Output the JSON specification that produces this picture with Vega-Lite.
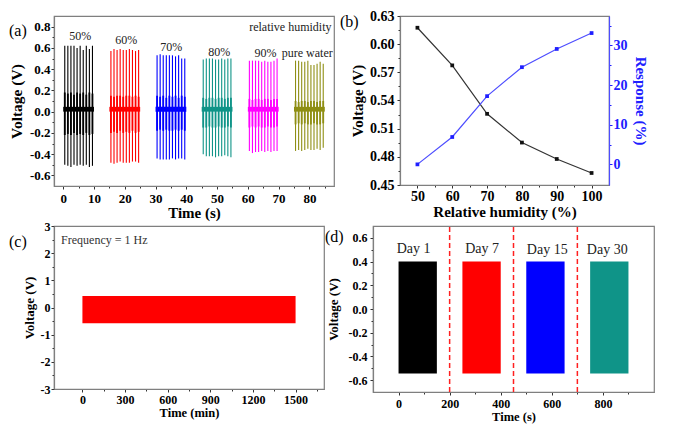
{
 "$schema": "https://vega.github.io/schema/vega-lite/v6.json",
 "background": "white",
 "padding": {"left": 8, "top": 8, "right": 0, "bottom": 0},
 "config": {
  "font": "Liberation Serif",
  "view": {"stroke": "#7f7f7f", "strokeWidth": 1.2},
  "axis": {"grid": false, "labelFontWeight": "bold", "titleFontWeight": "bold", "labelColor": "#000", "titleColor": "#000", "domainColor": "#7f7f7f", "domainWidth": 1.2, "tickColor": "#333", "tickWidth": 1, "labelFlush": false, "labelOverlap": false, "labelBound": false},
  "title": {"font": "Liberation Serif", "fontWeight": "normal", "color": "#000"}
 },
 "datasets": {
  "spikes": [
   {"b":"50","t":0.5,"hi":0.62,"lo":-0.50},{"b":"50","t":1.5,"hi":0.62,"lo":-0.51},{"b":"50","t":2.5,"hi":0.62,"lo":-0.52},{"b":"50","t":3.5,"hi":0.62,"lo":-0.50},{"b":"50","t":4.5,"hi":0.60,"lo":-0.51},
   {"b":"50","t":5.5,"hi":0.62,"lo":-0.50},{"b":"50","t":6.5,"hi":0.58,"lo":-0.51},{"b":"50","t":7.5,"hi":0.62,"lo":-0.50},{"b":"50","t":8.5,"hi":0.59,"lo":-0.52},{"b":"50","t":9.5,"hi":0.62,"lo":-0.51},
   {"b":"60","t":15.5,"hi":0.57,"lo":-0.48},{"b":"60","t":16.5,"hi":0.59,"lo":-0.49},{"b":"60","t":17.5,"hi":0.58,"lo":-0.48},{"b":"60","t":18.5,"hi":0.59,"lo":-0.47},{"b":"60","t":19.5,"hi":0.58,"lo":-0.48},
   {"b":"60","t":20.5,"hi":0.58,"lo":-0.48},{"b":"60","t":21.5,"hi":0.59,"lo":-0.48},{"b":"60","t":22.5,"hi":0.58,"lo":-0.47},{"b":"60","t":23.5,"hi":0.57,"lo":-0.47},{"b":"60","t":24.5,"hi":0.58,"lo":-0.48},
   {"b":"70","t":30.5,"hi":0.53,"lo":-0.44},{"b":"70","t":31.5,"hi":0.54,"lo":-0.45},{"b":"70","t":32.5,"hi":0.53,"lo":-0.45},{"b":"70","t":33.5,"hi":0.53,"lo":-0.45},{"b":"70","t":34.5,"hi":0.53,"lo":-0.45},
   {"b":"70","t":35.5,"hi":0.53,"lo":-0.44},{"b":"70","t":36.5,"hi":0.52,"lo":-0.45},{"b":"70","t":37.5,"hi":0.53,"lo":-0.44},{"b":"70","t":38.5,"hi":0.50,"lo":-0.44},{"b":"70","t":39.5,"hi":0.50,"lo":-0.45},
   {"b":"80","t":45.5,"hi":0.49,"lo":-0.40},{"b":"80","t":46.5,"hi":0.50,"lo":-0.42},{"b":"80","t":47.5,"hi":0.50,"lo":-0.42},{"b":"80","t":48.5,"hi":0.50,"lo":-0.42},{"b":"80","t":49.5,"hi":0.49,"lo":-0.43},
   {"b":"80","t":50.5,"hi":0.49,"lo":-0.42},{"b":"80","t":51.5,"hi":0.50,"lo":-0.42},{"b":"80","t":52.5,"hi":0.49,"lo":-0.41},{"b":"80","t":53.5,"hi":0.50,"lo":-0.42},{"b":"80","t":54.5,"hi":0.50,"lo":-0.43},
   {"b":"90","t":60.5,"hi":0.48,"lo":-0.37},{"b":"90","t":61.5,"hi":0.48,"lo":-0.39},{"b":"90","t":62.5,"hi":0.48,"lo":-0.38},{"b":"90","t":63.5,"hi":0.48,"lo":-0.38},{"b":"90","t":64.5,"hi":0.47,"lo":-0.37},
   {"b":"90","t":65.5,"hi":0.48,"lo":-0.38},{"b":"90","t":66.5,"hi":0.47,"lo":-0.37},{"b":"90","t":67.5,"hi":0.47,"lo":-0.38},{"b":"90","t":68.5,"hi":0.48,"lo":-0.37},{"b":"90","t":69.5,"hi":0.50,"lo":-0.37},
   {"b":"pw","t":75.5,"hi":0.48,"lo":-0.37},{"b":"pw","t":76.5,"hi":0.48,"lo":-0.36},{"b":"pw","t":77.5,"hi":0.47,"lo":-0.37},{"b":"pw","t":78.5,"hi":0.47,"lo":-0.36},{"b":"pw","t":79.5,"hi":0.48,"lo":-0.35},
   {"b":"pw","t":80.5,"hi":0.44,"lo":-0.36},{"b":"pw","t":81.5,"hi":0.44,"lo":-0.36},{"b":"pw","t":82.5,"hi":0.45,"lo":-0.35},{"b":"pw","t":83.5,"hi":0.47,"lo":-0.36},{"b":"pw","t":84.5,"hi":0.45,"lo":-0.34}
  ],
  "mids": [
   {"b":"50","t":0.5,"hi":0.18,"lo":-0.22},{"b":"50","t":1.5,"hi":0.17,"lo":-0.21},{"b":"50","t":2.5,"hi":0.18,"lo":-0.22},{"b":"50","t":3.5,"hi":0.16,"lo":-0.20},{"b":"50","t":4.5,"hi":0.18,"lo":-0.22},
   {"b":"50","t":5.5,"hi":0.17,"lo":-0.21},{"b":"50","t":6.5,"hi":0.18,"lo":-0.22},{"b":"50","t":7.5,"hi":0.16,"lo":-0.20},{"b":"50","t":8.5,"hi":0.18,"lo":-0.22},{"b":"50","t":9.5,"hi":0.17,"lo":-0.21},
   {"b":"60","t":15.5,"hi":0.15,"lo":-0.20},{"b":"60","t":16.5,"hi":0.14,"lo":-0.19},{"b":"60","t":17.5,"hi":0.15,"lo":-0.20},{"b":"60","t":18.5,"hi":0.15,"lo":-0.18},{"b":"60","t":19.5,"hi":0.14,"lo":-0.20},
   {"b":"60","t":20.5,"hi":0.15,"lo":-0.19},{"b":"60","t":21.5,"hi":0.15,"lo":-0.20},{"b":"60","t":22.5,"hi":0.14,"lo":-0.18},{"b":"60","t":23.5,"hi":0.15,"lo":-0.20},{"b":"60","t":24.5,"hi":0.14,"lo":-0.19},
   {"b":"70","t":30.5,"hi":0.15,"lo":-0.18},{"b":"70","t":31.5,"hi":0.14,"lo":-0.17},{"b":"70","t":32.5,"hi":0.15,"lo":-0.18},{"b":"70","t":33.5,"hi":0.13,"lo":-0.17},{"b":"70","t":34.5,"hi":0.15,"lo":-0.18},
   {"b":"70","t":35.5,"hi":0.14,"lo":-0.18},{"b":"70","t":36.5,"hi":0.15,"lo":-0.17},{"b":"70","t":37.5,"hi":0.13,"lo":-0.18},{"b":"70","t":38.5,"hi":0.15,"lo":-0.17},{"b":"70","t":39.5,"hi":0.14,"lo":-0.18},
   {"b":"80","t":45.5,"hi":0.13,"lo":-0.15},{"b":"80","t":46.5,"hi":0.12,"lo":-0.15},{"b":"80","t":47.5,"hi":0.13,"lo":-0.14},{"b":"80","t":48.5,"hi":0.13,"lo":-0.15},{"b":"80","t":49.5,"hi":0.12,"lo":-0.15},
   {"b":"80","t":50.5,"hi":0.13,"lo":-0.14},{"b":"80","t":51.5,"hi":0.13,"lo":-0.15},{"b":"80","t":52.5,"hi":0.12,"lo":-0.15},{"b":"80","t":53.5,"hi":0.13,"lo":-0.14},{"b":"80","t":54.5,"hi":0.13,"lo":-0.15},
   {"b":"90","t":60.5,"hi":0.12,"lo":-0.15},{"b":"90","t":61.5,"hi":0.11,"lo":-0.14},{"b":"90","t":62.5,"hi":0.12,"lo":-0.15},{"b":"90","t":63.5,"hi":0.12,"lo":-0.14},{"b":"90","t":64.5,"hi":0.11,"lo":-0.15},
   {"b":"90","t":65.5,"hi":0.12,"lo":-0.15},{"b":"90","t":66.5,"hi":0.12,"lo":-0.14},{"b":"90","t":67.5,"hi":0.11,"lo":-0.15},{"b":"90","t":68.5,"hi":0.12,"lo":-0.15},{"b":"90","t":69.5,"hi":0.12,"lo":-0.14},
   {"b":"pw","t":75.5,"hi":0.10,"lo":-0.12},{"b":"pw","t":76.5,"hi":0.09,"lo":-0.11},{"b":"pw","t":77.5,"hi":0.10,"lo":-0.12},{"b":"pw","t":78.5,"hi":0.10,"lo":-0.11},{"b":"pw","t":79.5,"hi":0.09,"lo":-0.12},
   {"b":"pw","t":80.5,"hi":0.10,"lo":-0.12},{"b":"pw","t":81.5,"hi":0.10,"lo":-0.11},{"b":"pw","t":82.5,"hi":0.09,"lo":-0.12},{"b":"pw","t":83.5,"hi":0.10,"lo":-0.12},{"b":"pw","t":84.5,"hi":0.10,"lo":-0.11}
  ],
  "bandsA": [
   {"b":"50","t":0,"t2":10,"lo":0.0,"hi":0.045},
   {"b":"60","t":15,"t2":25,"lo":0.0,"hi":0.045},
   {"b":"70","t":30,"t2":40,"lo":0.0,"hi":0.045},
   {"b":"80","t":45,"t2":55,"lo":0.0,"hi":0.045},
   {"b":"90","t":60,"t2":70,"lo":0.0,"hi":0.045},
   {"b":"pw","t":75,"t2":85,"lo":0.0,"hi":0.045}
  ],
  "labelsA": [
   {"s":"50%","t":5.5,"lo":0.715},
   {"s":"60%","t":20.5,"lo":0.67},
   {"s":"70%","t":35.1,"lo":0.61},
   {"s":"80%","t":50.7,"lo":0.56},
   {"s":"90%","t":65.7,"lo":0.555},
   {"s":"pure water","t":79.3,"lo":0.555},
   {"s":"relative humidity","t":73.8,"lo":0.80}
  ],
  "humid": [
   {"rh":50,"v":0.6175,"r":0},
   {"rh":60,"v":0.5774,"r":6.9},
   {"rh":70,"v":0.5258,"r":17.2},
   {"rh":80,"v":0.4952,"r":24.5},
   {"rh":90,"v":0.4777,"r":29.1},
   {"rh":100,"v":0.4628,"r":33.1}
  ],
  "bandC": [{"t":0,"t2":1500,"lo":-0.58,"hi":0.42}],
  "labelC": [{"s":"Frequency = 1 Hz","t":-150,"lo":2.5}],
  "bandsD": [
   {"d":"1","t":0,"t2":150,"lo":-0.545,"hi":0.40},
   {"d":"7","t":250,"t2":400,"lo":-0.545,"hi":0.40},
   {"d":"15","t":500,"t2":650,"lo":-0.545,"hi":0.40},
   {"d":"30","t":750,"t2":900,"lo":-0.545,"hi":0.40}
  ],
  "dashD": [{"t":200,"lo":-0.7,"hi":0.7},{"t":450,"lo":-0.7,"hi":0.7},{"t":700,"lo":-0.7,"hi":0.7}],
  "labelsD": [
   {"s":"Day 1","t":59,"lo":0.51},
   {"s":"Day 7","t":327,"lo":0.51},
   {"s":"Day 15","t":582,"lo":0.50},
   {"s":"Day 30","t":817,"lo":0.50}
  ]
 },
 "spacing": -2,
 "vconcat": [
  {
   "spacing": 66,
   "bounds": "flush",
   "hconcat": [
    {
     "width": 280,
     "height": 170,
     "title": {"text": "(a)", "anchor": "start", "frame": "bounds", "fontSize": 16, "offset": 0, "dy": 23},
     "encoding": {
      "x": {"field": "t", "type": "quantitative", "scale": {"domain": [-3, 88], "nice": false, "zero": false},
       "axis": {"values": [0,5,10,15,20,25,30,35,40,45,50,55,60,65,70,75,80,85], "labelExpr": "datum.value % 10 === 0 ? datum.label : ''", "tickSize": {"condition": {"test": "datum.value % 10 === 0", "value": 3}, "value": 2}, "labelFontSize": 13, "labelPadding": 3, "title": "Time (s)", "titleFontSize": 15, "titlePadding": 1, "minExtent": 18, "maxExtent": 18}},
      "y": {"field": "lo", "type": "quantitative", "scale": {"domain": [-0.7, 0.9], "nice": false, "zero": false},
       "axis": {"values": [-0.6,-0.5,-0.4,-0.3,-0.2,-0.1,0,0.1,0.2,0.3,0.4,0.5,0.6,0.7,0.8], "format": ".1f", "labelExpr": "abs(round(datum.value*10)) % 2 === 0 ? replace(datum.label, '\u2212', '-') : ''", "tickSize": {"condition": {"test": "abs(round(datum.value*10)) % 2 === 0", "value": 3}, "value": 2}, "labelFontSize": 13, "labelPadding": 1, "title": "Voltage (V)", "titleFontSize": 15.5, "titlePadding": 5, "minExtent": 25, "maxExtent": 25}}
     },
     "layer": [
      {
       "data": {"name": "bandsA"},
       "mark": {"type": "rect"},
       "encoding": {
        "x2": {"field": "t2"},
        "y2": {"field": "hi"},
        "color": {"field": "b", "type": "nominal", "scale": {"domain": ["50","60","70","80","90","pw"], "range": ["#000000","#ff0000","#0000ff","#0f9488","#ff00ff","#8f8f14"]}, "legend": null}
       }
      },
      {
       "data": {"name": "spikes"},
       "mark": {"type": "rule", "strokeWidth": 1.1},
       "encoding": {
        "y2": {"field": "hi"},
        "color": {"field": "b", "type": "nominal", "legend": null}
       }
      },
      {
       "data": {"name": "mids"},
       "mark": {"type": "rule", "strokeWidth": 1.8},
       "encoding": {
        "y2": {"field": "hi"},
        "color": {"field": "b", "type": "nominal", "legend": null}
       }
      },
      {
       "data": {"name": "labelsA"},
       "mark": {"type": "text", "fontSize": 12, "color": "#222"},
       "encoding": {
        "text": {"field": "s"}
       }
      }
     ]
    },
    {
     "width": 209,
     "height": 169,
     "title": {"text": "(b)", "anchor": "start", "frame": "bounds", "fontSize": 16, "offset": 0, "dy": 21, "dx": -10},
     "data": {"name": "humid"},
     "encoding": {
      "x": {"field": "rh", "type": "quantitative", "scale": {"domain": [45, 105], "nice": false, "zero": false},
       "axis": {"values": [50,55,60,65,70,75,80,85,90,95,100], "labelExpr": "datum.value % 10 === 0 ? datum.label : ''", "tickSize": {"condition": {"test": "datum.value % 10 === 0", "value": 3}, "value": 2}, "labelFontSize": 14, "labelPadding": 1, "title": "Relative humidity (%)", "titleFontSize": 15, "titlePadding": 1, "minExtent": 18, "maxExtent": 18}}
     },
     "layer": [
      {
       "mark": {"type": "line", "color": "#333333", "strokeWidth": 1.2, "point": {"shape": "square", "filled": true, "color": "#111111", "size": 14}},
       "encoding": {
        "y": {"field": "v", "type": "quantitative", "scale": {"domain": [0.45, 0.63], "nice": false, "zero": false},
         "axis": {"values": [0.45,0.465,0.48,0.495,0.51,0.525,0.54,0.555,0.57,0.585,0.6,0.615,0.63], "format": ".2f", "labelExpr": "round(datum.value*1000) % 30 === 0 ? datum.label : ''", "tickSize": {"condition": {"test": "round(datum.value*1000) % 30 === 0", "value": 3}, "value": 2}, "labelFontSize": 14, "labelPadding": 3, "title": "Voltage (V)", "titleFontSize": 15, "titlePadding": 4, "minExtent": 31, "maxExtent": 31}}
       }
      },
      {
       "mark": {"type": "line", "color": "#4d4dff", "strokeWidth": 1.2, "point": {"shape": "square", "filled": true, "color": "#1f1fff", "size": 14}},
       "encoding": {
        "y": {"field": "r", "type": "quantitative", "scale": {"domain": [-5.2, 37.4], "nice": false, "zero": false},
         "axis": {"orient": "right", "values": [0,5,10,15,20,25,30,35], "labelExpr": "datum.value % 10 === 0 ? datum.label : ''", "tickSize": {"condition": {"test": "datum.value % 10 === 0", "value": 3}, "value": 2}, "labelFontSize": 14, "labelPadding": 1, "labelColor": "#2020ff", "tickColor": "#2020ff", "domainColor": "#4d4dff", "title": "Response (%)", "titleColor": "#2020ff", "titleFontSize": 15, "titlePadding": 5, "minExtent": 18, "maxExtent": 18}}
       }
      }
     ],
     "resolve": {"scale": {"y": "independent"}}
    }
   ]
  },
  {
   "spacing": 49,
   "bounds": "flush",
   "hconcat": [
    {
     "width": 270,
     "height": 163,
     "title": {"text": "(c)", "anchor": "start", "frame": "bounds", "fontSize": 16, "offset": 0, "dy": 30, "dx": -14},
     "encoding": {
      "x": {"field": "t", "type": "quantitative", "scale": {"domain": [-200, 1700], "nice": false, "zero": false},
       "axis": {"values": [0,150,300,450,600,750,900,1050,1200,1350,1500,1650], "labelExpr": "datum.value % 300 === 0 ? format(datum.value, 'd') : ''", "tickSize": {"condition": {"test": "datum.value % 300 === 0", "value": 3}, "value": 2}, "labelFontSize": 12, "labelPadding": 2, "title": "Time (min)", "titleFontSize": 12.5, "titlePadding": 0, "minExtent": 17, "maxExtent": 17}},
      "y": {"field": "lo", "type": "quantitative", "scale": {"domain": [-3, 3], "nice": false, "zero": false},
       "axis": {"values": [-3,-2.5,-2,-1.5,-1,-0.5,0,0.5,1,1.5,2,2.5,3], "labelExpr": "datum.value % 1 === 0 ? replace(format(datum.value, 'd'), '\u2212', '-') : ''", "tickSize": {"condition": {"test": "datum.value % 1 === 0", "value": 3}, "value": 2}, "labelFontSize": 12, "labelPadding": 1, "title": "Voltage (V)", "titleFontSize": 13, "titlePadding": 4, "minExtent": 14, "maxExtent": 14}}
     },
     "layer": [
      {
       "data": {"name": "bandC"},
       "mark": {"type": "rect", "color": "#ff0000"},
       "encoding": {
        "x2": {"field": "t2"},
        "y2": {"field": "hi"}
       }
      },
      {
       "data": {"name": "labelC"},
       "mark": {"type": "text", "fontSize": 12, "align": "left", "color": "#333"},
       "encoding": {
        "text": {"field": "s"}
       }
      }
     ]
    },
    {
     "width": 281,
     "height": 166,
     "title": {"text": "(d)", "anchor": "start", "frame": "bounds", "fontSize": 16, "offset": 0, "dy": 20, "dx": -2},
     "encoding": {
      "x": {"field": "t", "type": "quantitative", "scale": {"domain": [-100, 1000], "nice": false, "zero": false},
       "axis": {"values": [0,100,200,300,400,500,600,700,800,900], "labelExpr": "datum.value % 200 === 0 ? datum.label : ''", "tickSize": {"condition": {"test": "datum.value % 200 === 0", "value": 3}, "value": 2}, "labelFontSize": 12, "labelPadding": 3, "title": "Time (s)", "titleFontSize": 12.5, "titlePadding": 0, "minExtent": 18, "maxExtent": 18}},
      "y": {"field": "lo", "type": "quantitative", "scale": {"domain": [-0.7, 0.7], "nice": false, "zero": false},
       "axis": {"values": [-0.6,-0.5,-0.4,-0.3,-0.2,-0.1,0,0.1,0.2,0.3,0.4,0.5,0.6], "format": ".1f", "labelExpr": "abs(round(datum.value*10)) % 2 === 0 ? replace(datum.label, '\u2212', '-') : ''", "tickSize": {"condition": {"test": "abs(round(datum.value*10)) % 2 === 0", "value": 3}, "value": 2}, "labelFontSize": 12, "labelPadding": 3, "title": "Voltage (V)", "titleFontSize": 13, "titlePadding": 8, "minExtent": 25, "maxExtent": 25}}
     },
     "layer": [
      {
       "data": {"name": "bandsD"},
       "mark": {"type": "rect"},
       "encoding": {
        "x2": {"field": "t2"},
        "y2": {"field": "hi"},
        "color": {"field": "d", "type": "nominal", "scale": {"domain": ["1","7","15","30"], "range": ["#000000","#ff0000","#0000ff","#008a80"]}, "legend": null}
       }
      },
      {
       "data": {"name": "dashD"},
       "mark": {"type": "rule", "color": "#ff2020", "strokeWidth": 1.5, "strokeDash": [5, 3]},
       "encoding": {
        "y2": {"field": "hi"}
       }
      },
      {
       "data": {"name": "labelsD"},
       "mark": {"type": "text", "fontSize": 14, "color": "#222"},
       "encoding": {
        "text": {"field": "s"}
       }
      }
     ]
    }
   ]
  }
 ]
}
